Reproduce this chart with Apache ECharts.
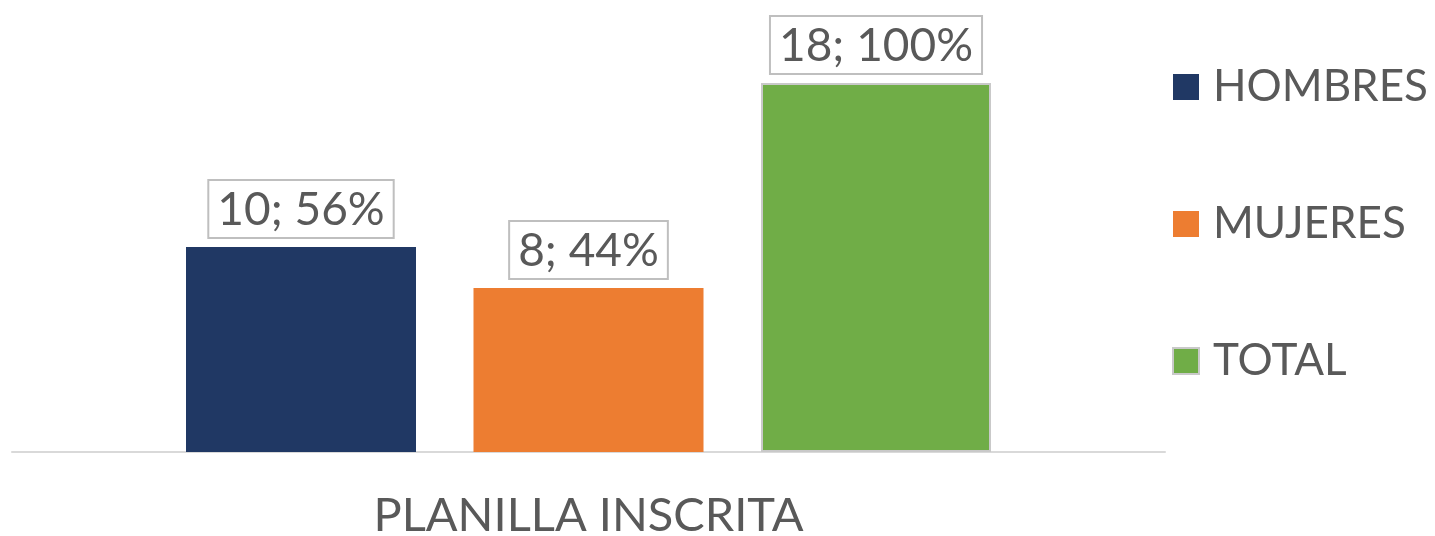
<!DOCTYPE html>
<html>
<head>
<meta charset="utf-8">
<script src="https://cdn.jsdelivr.net/npm/echarts@6/dist/echarts.min.js"></script>
<style>
  html, body { margin: 0; padding: 0; background: #fff; }
  #main { width: 1435px; height: 536px; }
</style>
</head>
<body>
<div id="main"></div>
<script>
const categories = ['PLANILLA INSCRITA'];
const seriesNames = ['HOMBRES', 'MUJERES', 'TOTAL'];
const values = [[10], [8], [18]];
const percents = [['56%'], ['44%'], ['100%']];
const colors = ['#203864', '#ED7D31', '#70AD47'];

const FONT = 'Lato';
const TXT = '#595959';

var chart = echarts.init(document.getElementById('main'));

const series = seriesNames.map((name, i) => ({
    name: name,
    type: 'bar',
    data: values[i],
    barWidth: 230,
    barGap: '25%',
    itemStyle: {
        color: colors[i],
        borderColor: i == 2 ? '#c9c9c9' : colors[i],
        borderWidth: i == 2 ? 2 : 0
    },
    label: {
        show: true,
        position: 'top',
        distance: 10,
        formatter: (p) => p.value + '; ' + percents[i][p.dataIndex],
        fontFamily: FONT,
        fontSize: 46,
        color: TXT,
        borderColor: '#bfbfbf',
        borderWidth: 2,
        padding: [6, 8, 4, 8],
        backgroundColor: '#fff'
    }
}));

chart.setOption({
    animation: false,
    grid: { left: 12, right: 270, top: 42, bottom: 84, containLabel: false, outerBoundsMode: 'none' },
    legend: {
        orient: 'vertical',
        left: 1167,
        top: 59,
        itemWidth: 26,
        itemHeight: 26,
        itemGap: 91,
        icon: 'rect',
        textStyle: { fontFamily: FONT, fontSize: 44, color: TXT, lineHeight: 46, padding: [0, 0, 0, 9] },
        data: seriesNames
    },
    xAxis: {
        type: 'category',
        data: categories,
        axisLine: { lineStyle: { color: '#d9d9d9', width: 2 } },
        axisTick: { show: false },
        axisLabel: { fontFamily: FONT, fontSize: 47, color: TXT, margin: 40 }
    },
    yAxis: {
        type: 'value',
        min: 0,
        max: 20,
        show: false
    },
    series: series
});
</script>
</body>
</html>
